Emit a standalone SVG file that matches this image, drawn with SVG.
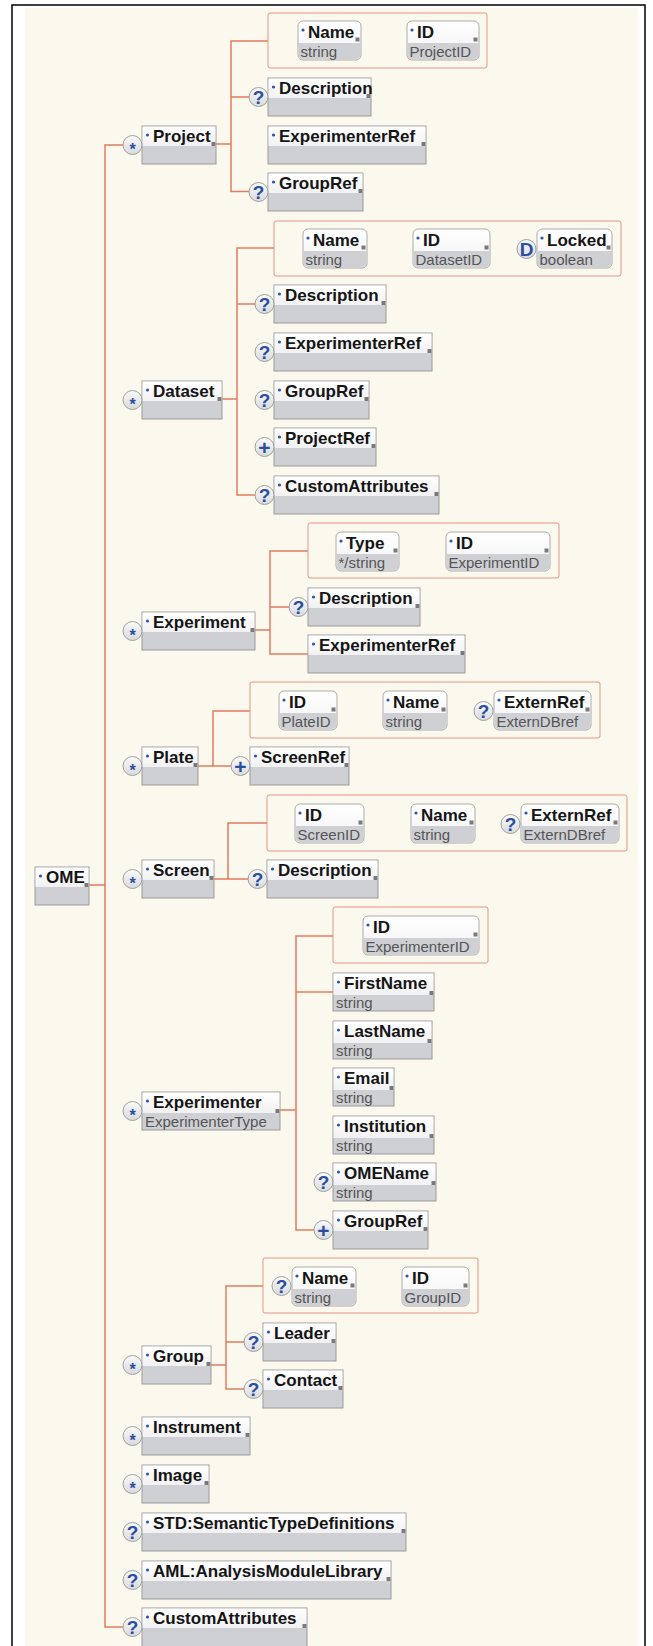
<svg xmlns="http://www.w3.org/2000/svg" width="653" height="1646" viewBox="0 0 653 1646">
<defs>
<linearGradient id="og" x1="0" y1="0" x2="0" y2="1"><stop offset="0" stop-color="#fafafa"/><stop offset="1" stop-color="#d9dadd"/></linearGradient>
<linearGradient id="hg" x1="0" y1="0" x2="0" y2="1"><stop offset="0" stop-color="#ffffff"/><stop offset="1" stop-color="#f1f1f3"/></linearGradient>
<style>
.cn{fill:none;stroke:#e27b60;stroke-width:1.5}
.grp{fill:none;stroke:#e59682;stroke-width:1}
.bd{fill:#cfd0d4;stroke:#9b9b9b;stroke-width:1}
.hd{fill:url(#hg)}
.aw{fill:url(#hg);stroke:#acacac;stroke-width:1}
.ag{fill:#cfd0d4}
.bl{fill:#2f55b0}
.ex{fill:#7a7a7a}
.nm{font-family:'Liberation Sans',Arial,sans-serif;font-weight:bold;font-size:17px;fill:#151515}
.sub{font-family:'Liberation Sans',Arial,sans-serif;font-size:15px;fill:#555}
.oc{fill:url(#og);stroke:#a0a0a0;stroke-width:1}
.os{font-family:'Liberation Sans',Arial,sans-serif;font-weight:bold;fill:#2b4ea0;text-anchor:middle}
.q{font-size:19px}
.st{font-size:16px}
.pl{font-size:21px}
</style>
</defs>
<rect x="0" y="0" width="653" height="1646" fill="#ffffff"/>
<rect x="25" y="8" width="613" height="1638" fill="#fbf8ee"/>
<path d="M12,1646V5H645V1646" fill="none" stroke="#000" stroke-width="1.5"/>

<g id="connectors">
<path class="cn" d="M123,145H105V1627H123M89,885H105"/>
<path class="cn" d="M216,144H231M268,41H231V191.5H249.5M231,97H249.5"/>
<path class="cn" d="M222,399H237M274,248H237V495H255.5M237,304H255.5"/>
<path class="cn" d="M255,630H270M308,551H270V654H308M270,607H289.5"/>
<path class="cn" d="M198,766H231.5M250,711H213V766"/>
<path class="cn" d="M214,879H248.5M267,823H228V879"/>
<path class="cn" d="M280,1110H296M333,936H296V1230H314.5M296,992H333"/>
<path class="cn" d="M211,1365H226M263,1286H226V1389H244.5M226,1342H244.5"/>
</g>

<g id="ome"><rect class="bd" x="35" y="867" width="54" height="38"/><rect class="hd" x="35.5" y="867.5" width="53" height="19.5"/><circle class="bl" cx="40.5" cy="876" r="1.6"/><text class="nm" x="46" y="883">OME</text><rect class="ex" x="84.5" y="883" width="4" height="4"/></g>

<!-- Project -->
<g id="project"><rect class="bd" x="142" y="126" width="74" height="38"/><rect class="hd" x="142.5" y="126.5" width="73" height="19.5"/><circle class="bl" cx="147.5" cy="135" r="1.6"/><text class="nm" x="153" y="142">Project</text><rect class="ex" x="211.5" y="142" width="4" height="4"/><circle class="oc" cx="132.5" cy="145" r="9.5"/><text class="os st" x="132.5" y="154.5">*</text></g>
<g id="project-attrs"><rect class="grp" x="268" y="13" width="219" height="55" rx="2"/>
<g id="project-name"><rect class="aw" x="298" y="21" width="63" height="39" rx="5"/><path class="ag" d="M298.5,43h62v11.5a4.5,4.5 0 0 1-4.5,4.5h-53a4.5,4.5 0 0 1-4.5-4.5z"/><circle class="bl" cx="303" cy="30" r="1.6"/><text class="nm" x="308" y="38">Name</text><text class="sub" x="300.5" y="56.5">string</text><rect class="ex" x="355.5" y="37.5" width="4" height="4"/></g>
<g id="project-id"><rect class="aw" x="407" y="21" width="72" height="39" rx="5"/><path class="ag" d="M407.5,43h71v11.5a4.5,4.5 0 0 1-4.5,4.5h-62a4.5,4.5 0 0 1-4.5-4.5z"/><circle class="bl" cx="412" cy="30" r="1.6"/><text class="nm" x="417" y="38">ID</text><text class="sub" x="409.5" y="56.5">ProjectID</text><rect class="ex" x="473.5" y="37.5" width="4" height="4"/></g>
</g>
<g id="project-description"><rect class="bd" x="268" y="78" width="103" height="38"/><rect class="hd" x="268.5" y="78.5" width="102" height="19.5"/><circle class="bl" cx="273.5" cy="87" r="1.6"/><text class="nm" x="279" y="94">Description</text><rect class="ex" x="366.5" y="94" width="4" height="4"/><circle class="oc" cx="258.5" cy="97" r="9.5"/><text class="os q" x="258.5" y="104">?</text></g>
<g id="project-experimenterref"><rect class="bd" x="268" y="126" width="158" height="38"/><rect class="hd" x="268.5" y="126.5" width="157" height="19.5"/><circle class="bl" cx="273.5" cy="135" r="1.6"/><text class="nm" x="279" y="142">ExperimenterRef</text><rect class="ex" x="421.5" y="142" width="4" height="4"/></g>
<g id="project-groupref"><rect class="bd" x="268" y="173" width="95" height="38"/><rect class="hd" x="268.5" y="173.5" width="94" height="19.5"/><circle class="bl" cx="273.5" cy="182" r="1.6"/><text class="nm" x="279" y="189">GroupRef</text><rect class="ex" x="358.5" y="189" width="4" height="4"/><circle class="oc" cx="258.5" cy="192" r="9.5"/><text class="os q" x="258.5" y="199">?</text></g>

<!-- Dataset -->
<g id="dataset"><rect class="bd" x="142" y="381" width="80" height="38"/><rect class="hd" x="142.5" y="381.5" width="79" height="19.5"/><circle class="bl" cx="147.5" cy="390" r="1.6"/><text class="nm" x="153" y="397">Dataset</text><rect class="ex" x="217.5" y="397" width="4" height="4"/><circle class="oc" cx="132.5" cy="400" r="9.5"/><text class="os st" x="132.5" y="409.5">*</text></g>
<g id="dataset-attrs"><rect class="grp" x="274" y="221" width="347" height="55" rx="2"/>
<g id="dataset-name"><rect class="aw" x="303" y="229" width="64" height="39" rx="5"/><path class="ag" d="M303.5,251h63v11.5a4.5,4.5 0 0 1-4.5,4.5h-54a4.5,4.5 0 0 1-4.5-4.5z"/><circle class="bl" cx="308" cy="238" r="1.6"/><text class="nm" x="313" y="246">Name</text><text class="sub" x="305.5" y="264.5">string</text><rect class="ex" x="361.5" y="245.5" width="4" height="4"/></g>
<g id="dataset-id"><rect class="aw" x="413" y="229" width="77" height="39" rx="5"/><path class="ag" d="M413.5,251h76v11.5a4.5,4.5 0 0 1-4.5,4.5h-67a4.5,4.5 0 0 1-4.5-4.5z"/><circle class="bl" cx="418" cy="238" r="1.6"/><text class="nm" x="423" y="246">ID</text><text class="sub" x="415.5" y="264.5">DatasetID</text><rect class="ex" x="484.5" y="245.5" width="4" height="4"/></g>
<g id="dataset-locked"><rect class="aw" x="537" y="229" width="75" height="39" rx="5"/><path class="ag" d="M537.5,251h74v11.5a4.5,4.5 0 0 1-4.5,4.5h-65a4.5,4.5 0 0 1-4.5-4.5z"/><circle class="bl" cx="542" cy="238" r="1.6"/><text class="nm" x="547" y="246">Locked</text><text class="sub" x="539.5" y="264.5">boolean</text><rect class="ex" x="606.5" y="245.5" width="4" height="4"/><circle class="oc" cx="526.5" cy="249" r="9.5"/><text class="os q" x="526.5" y="256">D</text></g>
</g>
<g id="dataset-description"><rect class="bd" x="274" y="285" width="112" height="38"/><rect class="hd" x="274.5" y="285.5" width="111" height="19.5"/><circle class="bl" cx="279.5" cy="294" r="1.6"/><text class="nm" x="285" y="301">Description</text><rect class="ex" x="381.5" y="301" width="4" height="4"/><circle class="oc" cx="264.5" cy="304" r="9.5"/><text class="os q" x="264.5" y="311">?</text></g>
<g id="dataset-experimenterref"><rect class="bd" x="274" y="333" width="158" height="38"/><rect class="hd" x="274.5" y="333.5" width="157" height="19.5"/><circle class="bl" cx="279.5" cy="342" r="1.6"/><text class="nm" x="285" y="349">ExperimenterRef</text><rect class="ex" x="427.5" y="349" width="4" height="4"/><circle class="oc" cx="264.5" cy="352" r="9.5"/><text class="os q" x="264.5" y="359">?</text></g>
<g id="dataset-groupref"><rect class="bd" x="274" y="381" width="95" height="38"/><rect class="hd" x="274.5" y="381.5" width="94" height="19.5"/><circle class="bl" cx="279.5" cy="390" r="1.6"/><text class="nm" x="285" y="397">GroupRef</text><rect class="ex" x="364.5" y="397" width="4" height="4"/><circle class="oc" cx="264.5" cy="400" r="9.5"/><text class="os q" x="264.5" y="407">?</text></g>
<g id="dataset-projectref"><rect class="bd" x="274" y="428" width="102" height="38"/><rect class="hd" x="274.5" y="428.5" width="101" height="19.5"/><circle class="bl" cx="279.5" cy="437" r="1.6"/><text class="nm" x="285" y="444">ProjectRef</text><rect class="ex" x="371.5" y="444" width="4" height="4"/><circle class="oc" cx="264.5" cy="447" r="9.5"/><text class="os pl" x="264.5" y="455">+</text></g>
<g id="dataset-customattributes"><rect class="bd" x="274" y="476" width="165" height="38"/><rect class="hd" x="274.5" y="476.5" width="164" height="19.5"/><circle class="bl" cx="279.5" cy="485" r="1.6"/><text class="nm" x="285" y="492">CustomAttributes</text><rect class="ex" x="434.5" y="492" width="4" height="4"/><circle class="oc" cx="264.5" cy="495" r="9.5"/><text class="os q" x="264.5" y="502">?</text></g>

<!-- Experiment -->
<g id="experiment"><rect class="bd" x="142" y="612" width="113" height="38"/><rect class="hd" x="142.5" y="612.5" width="112" height="19.5"/><circle class="bl" cx="147.5" cy="621" r="1.6"/><text class="nm" x="153" y="628">Experiment</text><rect class="ex" x="250.5" y="628" width="4" height="4"/><circle class="oc" cx="132.5" cy="631" r="9.5"/><text class="os st" x="132.5" y="640.5">*</text></g>
<g id="experiment-attrs"><rect class="grp" x="308" y="523" width="251" height="55" rx="2"/>
<g id="experiment-type"><rect class="aw" x="336" y="532" width="63" height="39" rx="5"/><path class="ag" d="M336.5,554h62v11.5a4.5,4.5 0 0 1-4.5,4.5h-53a4.5,4.5 0 0 1-4.5-4.5z"/><circle class="bl" cx="341" cy="541" r="1.6"/><text class="nm" x="346" y="549">Type</text><text class="sub" x="338.5" y="567.5">*/string</text><rect class="ex" x="393.5" y="548.5" width="4" height="4"/></g>
<g id="experiment-id"><rect class="aw" x="446" y="532" width="104" height="39" rx="5"/><path class="ag" d="M446.5,554h103v11.5a4.5,4.5 0 0 1-4.5,4.5h-94a4.5,4.5 0 0 1-4.5-4.5z"/><circle class="bl" cx="451" cy="541" r="1.6"/><text class="nm" x="456" y="549">ID</text><text class="sub" x="448.5" y="567.5">ExperimentID</text><rect class="ex" x="544.5" y="548.5" width="4" height="4"/></g>
</g>
<g id="experiment-description"><rect class="bd" x="308" y="588" width="112" height="38"/><rect class="hd" x="308.5" y="588.5" width="111" height="19.5"/><circle class="bl" cx="313.5" cy="597" r="1.6"/><text class="nm" x="319" y="604">Description</text><rect class="ex" x="415.5" y="604" width="4" height="4"/><circle class="oc" cx="298.5" cy="607" r="9.5"/><text class="os q" x="298.5" y="614">?</text></g>
<g id="experiment-experimenterref"><rect class="bd" x="308" y="635" width="157" height="38"/><rect class="hd" x="308.5" y="635.5" width="156" height="19.5"/><circle class="bl" cx="313.5" cy="644" r="1.6"/><text class="nm" x="319" y="651">ExperimenterRef</text><rect class="ex" x="460.5" y="651" width="4" height="4"/></g>

<!-- Plate -->
<g id="plate"><rect class="bd" x="142" y="747" width="56" height="38"/><rect class="hd" x="142.5" y="747.5" width="55" height="19.5"/><circle class="bl" cx="147.5" cy="756" r="1.6"/><text class="nm" x="153" y="763">Plate</text><rect class="ex" x="193.5" y="763" width="4" height="4"/><circle class="oc" cx="132.5" cy="766" r="9.5"/><text class="os st" x="132.5" y="775.5">*</text></g>
<g id="plate-attrs"><rect class="grp" x="250" y="682" width="350" height="56" rx="2"/>
<g id="plate-id"><rect class="aw" x="279" y="691" width="58" height="39" rx="5"/><path class="ag" d="M279.5,713h57v11.5a4.5,4.5 0 0 1-4.5,4.5h-48a4.5,4.5 0 0 1-4.5-4.5z"/><circle class="bl" cx="284" cy="700" r="1.6"/><text class="nm" x="289" y="708">ID</text><text class="sub" x="281.5" y="726.5">PlateID</text><rect class="ex" x="331.5" y="707.5" width="4" height="4"/></g>
<g id="plate-name"><rect class="aw" x="383" y="691" width="64" height="39" rx="5"/><path class="ag" d="M383.5,713h63v11.5a4.5,4.5 0 0 1-4.5,4.5h-54a4.5,4.5 0 0 1-4.5-4.5z"/><circle class="bl" cx="388" cy="700" r="1.6"/><text class="nm" x="393" y="708">Name</text><text class="sub" x="385.5" y="726.5">string</text><rect class="ex" x="441.5" y="707.5" width="4" height="4"/></g>
<g id="plate-externref"><rect class="aw" x="494" y="691" width="97" height="39" rx="5"/><path class="ag" d="M494.5,713h96v11.5a4.5,4.5 0 0 1-4.5,4.5h-87a4.5,4.5 0 0 1-4.5-4.5z"/><circle class="bl" cx="499" cy="700" r="1.6"/><text class="nm" x="504" y="708">ExternRef</text><text class="sub" x="496.5" y="726.5">ExternDBref</text><rect class="ex" x="585.5" y="707.5" width="4" height="4"/><circle class="oc" cx="483.5" cy="711" r="9.5"/><text class="os q" x="483.5" y="718">?</text></g>
</g>
<g id="plate-screenref"><rect class="bd" x="250" y="747" width="99" height="38"/><rect class="hd" x="250.5" y="747.5" width="98" height="19.5"/><circle class="bl" cx="255.5" cy="756" r="1.6"/><text class="nm" x="261" y="763">ScreenRef</text><rect class="ex" x="344.5" y="763" width="4" height="4"/><circle class="oc" cx="240.5" cy="766" r="9.5"/><text class="os pl" x="240.5" y="774">+</text></g>

<!-- Screen -->
<g id="screen"><rect class="bd" x="142" y="860" width="72" height="38"/><rect class="hd" x="142.5" y="860.5" width="71" height="19.5"/><circle class="bl" cx="147.5" cy="869" r="1.6"/><text class="nm" x="153" y="876">Screen</text><rect class="ex" x="209.5" y="876" width="4" height="4"/><circle class="oc" cx="132.5" cy="879" r="9.5"/><text class="os st" x="132.5" y="888.5">*</text></g>
<g id="screen-attrs"><rect class="grp" x="267" y="795" width="360" height="56" rx="2"/>
<g id="screen-id"><rect class="aw" x="295" y="804" width="69" height="39" rx="5"/><path class="ag" d="M295.5,826h68v11.5a4.5,4.5 0 0 1-4.5,4.5h-59a4.5,4.5 0 0 1-4.5-4.5z"/><circle class="bl" cx="300" cy="813" r="1.6"/><text class="nm" x="305" y="821">ID</text><text class="sub" x="297.5" y="839.5">ScreenID</text><rect class="ex" x="358.5" y="820.5" width="4" height="4"/></g>
<g id="screen-name"><rect class="aw" x="411" y="804" width="64" height="39" rx="5"/><path class="ag" d="M411.5,826h63v11.5a4.5,4.5 0 0 1-4.5,4.5h-54a4.5,4.5 0 0 1-4.5-4.5z"/><circle class="bl" cx="416" cy="813" r="1.6"/><text class="nm" x="421" y="821">Name</text><text class="sub" x="413.5" y="839.5">string</text><rect class="ex" x="469.5" y="820.5" width="4" height="4"/></g>
<g id="screen-externref"><rect class="aw" x="521" y="804" width="98" height="39" rx="5"/><path class="ag" d="M521.5,826h97v11.5a4.5,4.5 0 0 1-4.5,4.5h-88a4.5,4.5 0 0 1-4.5-4.5z"/><circle class="bl" cx="526" cy="813" r="1.6"/><text class="nm" x="531" y="821">ExternRef</text><text class="sub" x="523.5" y="839.5">ExternDBref</text><rect class="ex" x="613.5" y="820.5" width="4" height="4"/><circle class="oc" cx="510.5" cy="824" r="9.5"/><text class="os q" x="510.5" y="831">?</text></g>
</g>
<g id="screen-description"><rect class="bd" x="267" y="860" width="111" height="38"/><rect class="hd" x="267.5" y="860.5" width="110" height="19.5"/><circle class="bl" cx="272.5" cy="869" r="1.6"/><text class="nm" x="278" y="876">Description</text><rect class="ex" x="373.5" y="876" width="4" height="4"/><circle class="oc" cx="257.5" cy="879" r="9.5"/><text class="os q" x="257.5" y="886">?</text></g>

<!-- Experimenter -->
<g id="experimenter"><rect class="bd" x="142" y="1092" width="138" height="38"/><rect class="hd" x="142.5" y="1092.5" width="137" height="20.5"/><circle class="bl" cx="147.5" cy="1101" r="1.6"/><text class="nm" x="153" y="1108">Experimenter</text><text class="sub" x="145" y="1127">ExperimenterType</text><rect class="ex" x="275.5" y="1109" width="4" height="4"/><circle class="oc" cx="132.5" cy="1111" r="9.5"/><text class="os st" x="132.5" y="1120.5">*</text></g>
<g id="experimenter-attrs"><rect class="grp" x="333" y="907" width="155" height="56" rx="2"/>
<g id="experimenter-id"><rect class="aw" x="363" y="916" width="116" height="39" rx="5"/><path class="ag" d="M363.5,938h115v11.5a4.5,4.5 0 0 1-4.5,4.5h-106a4.5,4.5 0 0 1-4.5-4.5z"/><circle class="bl" cx="368" cy="925" r="1.6"/><text class="nm" x="373" y="933">ID</text><text class="sub" x="365.5" y="951.5">ExperimenterID</text><rect class="ex" x="473.5" y="932.5" width="4" height="4"/></g>
</g>
<g id="experimenter-firstname"><rect class="bd" x="333" y="973" width="101" height="38"/><rect class="hd" x="333.5" y="973.5" width="100" height="21.5"/><circle class="bl" cx="338.5" cy="982" r="1.6"/><text class="nm" x="344" y="989">FirstName</text><text class="sub" x="336" y="1008">string</text><rect class="ex" x="429.5" y="991" width="4" height="4"/></g>
<g id="experimenter-lastname"><rect class="bd" x="333" y="1021" width="99" height="38"/><rect class="hd" x="333.5" y="1021.5" width="98" height="21.5"/><circle class="bl" cx="338.5" cy="1030" r="1.6"/><text class="nm" x="344" y="1037">LastName</text><text class="sub" x="336" y="1056">string</text><rect class="ex" x="427.5" y="1039" width="4" height="4"/></g>
<g id="experimenter-email"><rect class="bd" x="333" y="1068" width="61" height="38"/><rect class="hd" x="333.5" y="1068.5" width="60" height="21.5"/><circle class="bl" cx="338.5" cy="1077" r="1.6"/><text class="nm" x="344" y="1084">Email</text><text class="sub" x="336" y="1103">string</text><rect class="ex" x="389.5" y="1086" width="4" height="4"/></g>
<g id="experimenter-institution"><rect class="bd" x="333" y="1116" width="101" height="38"/><rect class="hd" x="333.5" y="1116.5" width="100" height="21.5"/><circle class="bl" cx="338.5" cy="1125" r="1.6"/><text class="nm" x="344" y="1132">Institution</text><text class="sub" x="336" y="1151">string</text><rect class="ex" x="429.5" y="1134" width="4" height="4"/></g>
<g id="experimenter-omename"><rect class="bd" x="333" y="1163" width="103" height="38"/><rect class="hd" x="333.5" y="1163.5" width="102" height="21.5"/><circle class="bl" cx="338.5" cy="1172" r="1.6"/><text class="nm" x="344" y="1179">OMEName</text><text class="sub" x="336" y="1198">string</text><rect class="ex" x="431.5" y="1181" width="4" height="4"/><circle class="oc" cx="323.5" cy="1182" r="9.5"/><text class="os q" x="323.5" y="1189">?</text></g>
<g id="experimenter-groupref"><rect class="bd" x="333" y="1211" width="95" height="38"/><rect class="hd" x="333.5" y="1211.5" width="94" height="19.5"/><circle class="bl" cx="338.5" cy="1220" r="1.6"/><text class="nm" x="344" y="1227">GroupRef</text><rect class="ex" x="423.5" y="1227" width="4" height="4"/><circle class="oc" cx="323.5" cy="1230" r="9.5"/><text class="os pl" x="323.5" y="1238">+</text></g>

<!-- Group -->
<g id="group"><rect class="bd" x="142" y="1346" width="69" height="38"/><rect class="hd" x="142.5" y="1346.5" width="68" height="19.5"/><circle class="bl" cx="147.5" cy="1355" r="1.6"/><text class="nm" x="153" y="1362">Group</text><rect class="ex" x="206.5" y="1362" width="4" height="4"/><circle class="oc" cx="132.5" cy="1365" r="9.5"/><text class="os st" x="132.5" y="1374.5">*</text></g>
<g id="group-attrs"><rect class="grp" x="263" y="1258" width="215" height="55" rx="2"/>
<g id="group-name"><rect class="aw" x="292" y="1267" width="64" height="39" rx="5"/><path class="ag" d="M292.5,1289h63v11.5a4.5,4.5 0 0 1-4.5,4.5h-54a4.5,4.5 0 0 1-4.5-4.5z"/><circle class="bl" cx="297" cy="1276" r="1.6"/><text class="nm" x="302" y="1284">Name</text><text class="sub" x="294.5" y="1302.5">string</text><rect class="ex" x="350.5" y="1283.5" width="4" height="4"/><circle class="oc" cx="281.5" cy="1286" r="9.5"/><text class="os q" x="281.5" y="1293">?</text></g>
<g id="group-id"><rect class="aw" x="402" y="1267" width="67" height="39" rx="5"/><path class="ag" d="M402.5,1289h66v11.5a4.5,4.5 0 0 1-4.5,4.5h-57a4.5,4.5 0 0 1-4.5-4.5z"/><circle class="bl" cx="407" cy="1276" r="1.6"/><text class="nm" x="412" y="1284">ID</text><text class="sub" x="404.5" y="1302.5">GroupID</text><rect class="ex" x="463.5" y="1283.5" width="4" height="4"/></g>
</g>
<g id="group-leader"><rect class="bd" x="263" y="1323" width="73" height="38"/><rect class="hd" x="263.5" y="1323.5" width="72" height="19.5"/><circle class="bl" cx="268.5" cy="1332" r="1.6"/><text class="nm" x="274" y="1339">Leader</text><rect class="ex" x="331.5" y="1339" width="4" height="4"/><circle class="oc" cx="253.5" cy="1342" r="9.5"/><text class="os q" x="253.5" y="1349">?</text></g>
<g id="group-contact"><rect class="bd" x="263" y="1370" width="80" height="38"/><rect class="hd" x="263.5" y="1370.5" width="79" height="19.5"/><circle class="bl" cx="268.5" cy="1379" r="1.6"/><text class="nm" x="274" y="1386">Contact</text><rect class="ex" x="338.5" y="1386" width="4" height="4"/><circle class="oc" cx="253.5" cy="1389" r="9.5"/><text class="os q" x="253.5" y="1396">?</text></g>

<!-- Remaining top-level -->
<g id="instrument"><rect class="bd" x="142" y="1417" width="108" height="38"/><rect class="hd" x="142.5" y="1417.5" width="107" height="19.5"/><circle class="bl" cx="147.5" cy="1426" r="1.6"/><text class="nm" x="153" y="1433">Instrument</text><rect class="ex" x="245.5" y="1433" width="4" height="4"/><circle class="oc" cx="132.5" cy="1436" r="9.5"/><text class="os st" x="132.5" y="1445.5">*</text></g>
<g id="image"><rect class="bd" x="142" y="1465" width="67" height="38"/><rect class="hd" x="142.5" y="1465.5" width="66" height="19.5"/><circle class="bl" cx="147.5" cy="1474" r="1.6"/><text class="nm" x="153" y="1481">Image</text><rect class="ex" x="204.5" y="1481" width="4" height="4"/><circle class="oc" cx="132.5" cy="1484" r="9.5"/><text class="os st" x="132.5" y="1493.5">*</text></g>
<g id="std"><rect class="bd" x="142" y="1513" width="264" height="38"/><rect class="hd" x="142.5" y="1513.5" width="263" height="19.5"/><circle class="bl" cx="147.5" cy="1522" r="1.6"/><text class="nm" x="153" y="1529">STD:SemanticTypeDefinitions</text><rect class="ex" x="401.5" y="1529" width="4" height="4"/><circle class="oc" cx="132.5" cy="1532" r="9.5"/><text class="os q" x="132.5" y="1539">?</text></g>
<g id="aml"><rect class="bd" x="142" y="1561" width="249" height="38"/><rect class="hd" x="142.5" y="1561.5" width="248" height="19.5"/><circle class="bl" cx="147.5" cy="1570" r="1.6"/><text class="nm" x="153" y="1577">AML:AnalysisModuleLibrary</text><rect class="ex" x="386.5" y="1577" width="4" height="4"/><circle class="oc" cx="132.5" cy="1580" r="9.5"/><text class="os q" x="132.5" y="1587">?</text></g>
<g id="customattributes"><rect class="bd" x="142" y="1608" width="165" height="40"/><rect class="hd" x="142.5" y="1608.5" width="164" height="19.5"/><circle class="bl" cx="147.5" cy="1617" r="1.6"/><text class="nm" x="153" y="1624">CustomAttributes</text><rect class="ex" x="302.5" y="1624" width="4" height="4"/><circle class="oc" cx="132.5" cy="1627" r="9.5"/><text class="os q" x="132.5" y="1634">?</text></g>
</svg>
